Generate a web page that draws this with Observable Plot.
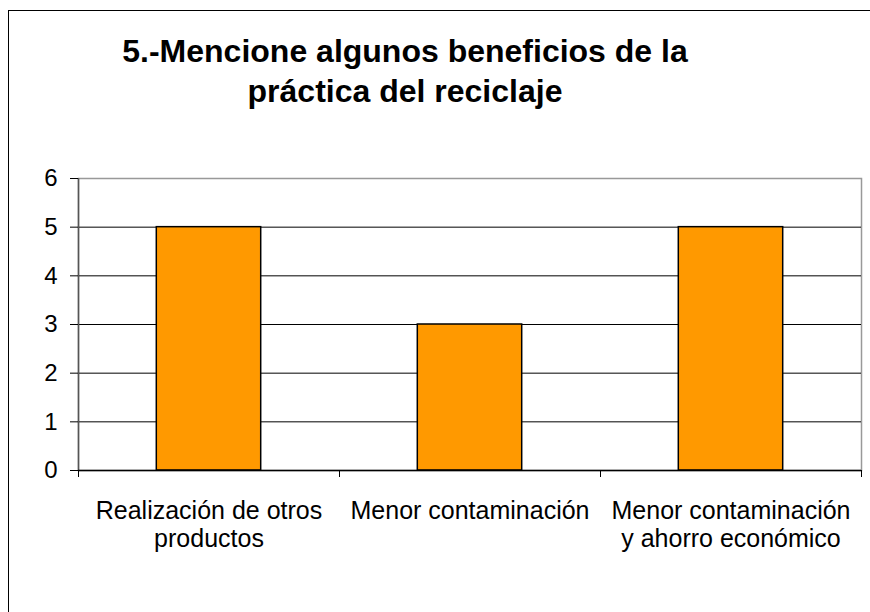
<!DOCTYPE html>
<html>
<head>
<meta charset="utf-8">
<script src="https://cdn.jsdelivr.net/npm/d3@7"></script>
<script src="https://cdn.jsdelivr.net/npm/@observablehq/plot@0.6"></script>
<style>
  html, body { margin: 0; padding: 0; background: #fff; }
  #wrap { position: relative; width: 870px; height: 612px; overflow: hidden; background: #fff; }
  #outer { position: absolute; left: 8px; top: 10px; width: 1000px; height: 1000px; border: 1px solid #000; }
  #title { position: absolute; left: 0; top: 31px; width: 810px; text-align: center;
           font-family: "Liberation Sans", Arial, sans-serif; font-weight: bold; font-size: 32px;
           line-height: 40px; color: #000; }
  #chart { position: absolute; left: 0; top: 0; }
</style>
</head>
<body>
<div id="wrap">
  <div id="outer"></div>
  <div id="chart"></div>
  <div id="title"></div>
</div>
<script>
const titleLines = ["5.-Mencione algunos beneficios de la", "práctica del reciclaje"];
const categories = ["Realización de otros\nproductos", "Menor contaminación", "Menor contaminación\ny ahorro económico"];
const values = [5, 3, 5];
const yTicks = [0, 1, 2, 3, 4, 5, 6];
const gridValues = [1, 2, 3, 4, 5];

const data = categories.map((c, i) => ({i, category: c, value: values[i]}));
const bounds = d3.range(categories.length + 1);

document.getElementById("title").innerHTML = titleLines.join("<br>");

const chart = Plot.plot({
  width: 870,
  height: 612,
  marginLeft: 78,
  marginRight: 9,
  marginTop: 178,
  marginBottom: 142,
  style: {fontFamily: "'Liberation Sans', Arial, sans-serif", fontSize: "25px", color: "#000", background: "transparent", overflow: "visible"},
  x: {type: "linear", domain: [0, categories.length], axis: null},
  y: {domain: [0, 6], axis: null},
  marks: [
    Plot.frame({stroke: "#999", strokeWidth: 1.5}),
    Plot.ruleY(gridValues, {stroke: "#000", strokeWidth: 1}),
    Plot.rectY(data, {x1: d => d.i + 0.3, x2: d => d.i + 0.7, y1: 0, y2: "value", fill: "#FF9900", stroke: "#000", strokeWidth: 1.5}),
    Plot.ruleX([0], {stroke: "#555", strokeWidth: 1.5}),
    Plot.ruleY([0], {stroke: "#000", strokeWidth: 1.5}),
    Plot.axisY({ticks: yTicks, tickSize: 8, tickPadding: 13, fontSize: 24, label: null, tickFormat: d3.format("d"), stroke: "#000"}),
    Plot.axisX({ticks: bounds, tickSize: 7, tickFormat: () => "", label: null, stroke: "#000"}),
    Plot.text(data, {x: d => d.i + 0.5, y: 0, text: "category", lineAnchor: "top", dy: 29, fontSize: 25, lineHeight: 1.12, fill: "#000"})
  ]
});
document.getElementById("chart").appendChild(chart);
</script>
</body>
</html>
